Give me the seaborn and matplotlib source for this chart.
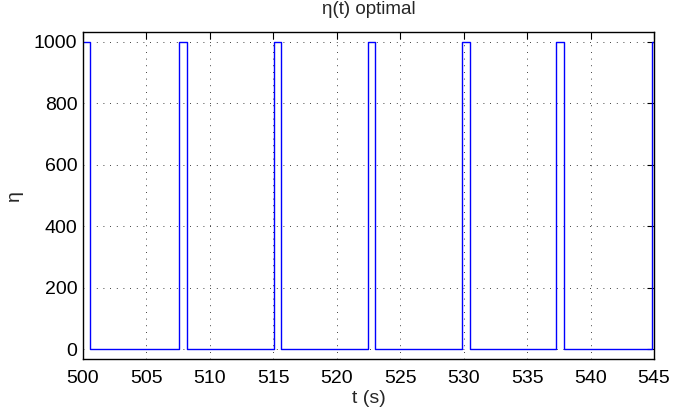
import numpy as np
import pandas as pd
import seaborn as sns
import matplotlib
matplotlib.use("Agg")
import matplotlib.pyplot as plt

# Switching instants (s) and eta level held from each instant on
t_switch = [500.0, 500.58, 507.60, 508.18, 515.05, 515.63, 522.44, 523.05,
            529.86, 530.47, 537.28, 537.91, 544.82, 545.0]
eta_level = [1000, 0, 1000, 0, 1000, 0, 1000, 0,
             1000, 0, 1000, 0, 1000, 1000]

x_ticks = [500, 505, 510, 515, 520, 525, 530, 535, 540, 545]
y_ticks = [0, 200, 400, 600, 800, 1000]

df = pd.DataFrame({"t": t_switch, "eta": eta_level})

sns.set_style("white")
plt.rcParams['font.family'] = ['Liberation Sans', 'DejaVu Sans']

fig = plt.figure(figsize=(6.73, 4.2), dpi=100)
ax = fig.add_axes([0.1233, 0.1452, 0.8485, 0.7786])

sns.lineplot(data=df, x="t", y="eta", ax=ax, color=(0, 0, 1),
             linewidth=1.0, drawstyle="steps-post", estimator=None, sort=False)

ax.set_xlim(500, 545)
ax.set_ylim(-31, 1031)
ax.set_xticks(x_ticks)
ax.set_yticks(y_ticks)

ax.grid(True, color="black", linestyle=(0, (1, 7)), linewidth=0.6)
ax.tick_params(direction="in", length=5, width=0.8, top=True, right=True,
               labelsize=14, colors="black")
ax.tick_params(axis="x", pad=8)
ax.tick_params(axis="y", pad=4)
for s in ax.spines.values():
    s.set_visible(True)
    s.set_color("black")
    s.set_linewidth(1.0)

ax.set_title("η(t) optimal", fontsize=13.5, pad=13)
ax.set_xlabel("t (s)", fontsize=14, labelpad=2)
ax.set_ylabel("η", fontsize=14, labelpad=8)

fig.savefig("out.png", dpi=100)
